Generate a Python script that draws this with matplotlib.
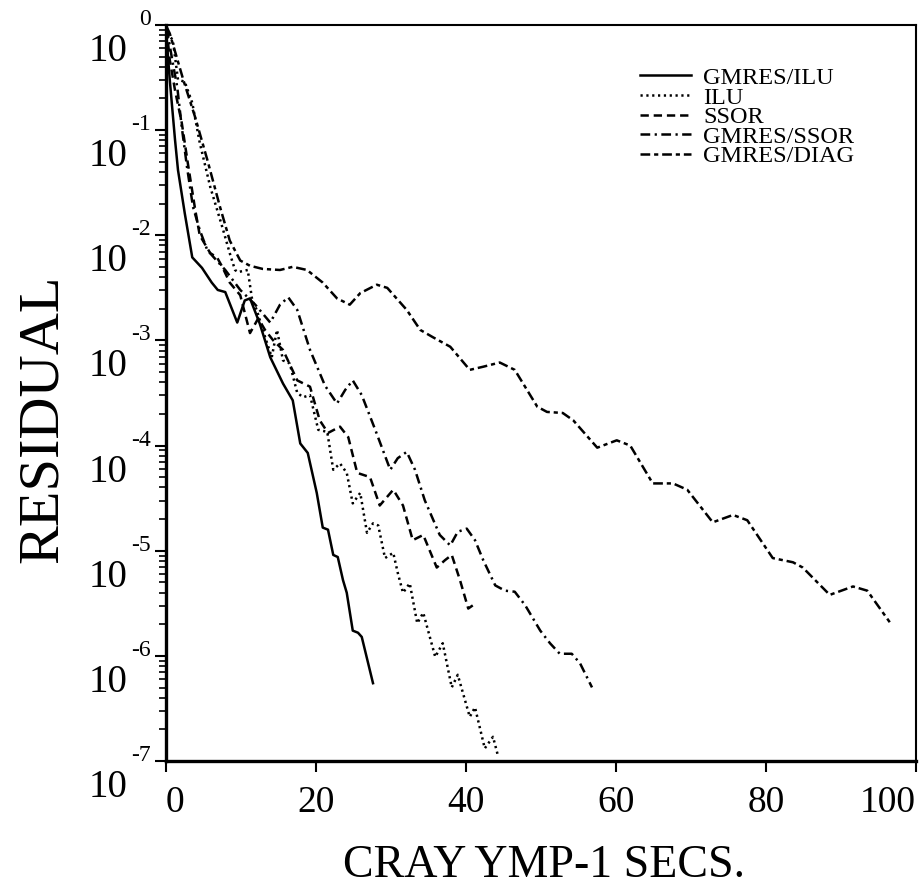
import numpy as np
import matplotlib
matplotlib.use('Agg')
import matplotlib.pyplot as plt
from matplotlib.transforms import offset_copy

plt.rcParams['font.family'] = ['Liberation Serif', 'DejaVu Serif']
plt.rcParams['lines.scale_dashes'] = False

# ---- data: time (s) and log10(residual) ----
gmres_ilu_t = [0.0, 0.5, 1.2, 1.6, 2.5, 3.5, 4.8, 6.1, 6.9, 7.9, 9.5, 10.5, 11.2, 12.5,
               13.9, 15.6, 16.9, 17.9, 18.9, 20.1, 20.9, 21.6, 22.3, 22.9, 23.6, 24.1,
               24.9, 25.6, 26.1, 27.6]
gmres_ilu_r = [-0.05, -0.52, -1.09, -1.38, -1.79, -2.21, -2.31, -2.45, -2.52, -2.54, -2.83,
               -2.62, -2.60, -2.84, -3.16, -3.41, -3.57, -3.98, -4.07, -4.45, -4.78, -4.80,
               -5.04, -5.06, -5.28, -5.40, -5.76, -5.78, -5.82, -6.26]

ilu_t = [0.1, 0.9, 1.6, 2.5, 3.5, 4.5, 5.6, 5.9, 7.5, 8.5, 9.2, 9.6, 10.9, 11.5, 12.1,
         12.9, 14.1, 14.8, 15.6, 16.5, 17.5, 18.3, 19.2, 20.3, 21.5, 22.3, 23.2, 24.1,
         24.9, 25.9, 26.8, 27.6, 28.3, 29.2, 30.3, 30.9, 31.6, 32.5, 33.5, 34.3, 35.9,
         36.9, 38.1, 38.9, 40.5, 41.2, 42.5, 43.6, 44.3]
ilu_r = [-0.08, -0.14, -0.52, -0.54, -0.74, -1.12, -1.45, -1.54, -1.92, -2.17, -2.33,
         -2.35, -2.33, -2.62, -2.71, -2.90, -3.16, -2.90, -3.19, -3.22, -3.50, -3.54,
         -3.52, -3.85, -3.87, -4.23, -4.17, -4.26, -4.55, -4.45, -4.83, -4.74, -4.76,
         -5.07, -5.02, -5.21, -5.40, -5.31, -5.69, -5.59, -6.01, -5.88, -6.30, -6.18,
         -6.58, -6.49, -6.88, -6.77, -6.96]

ssor_t = [0.1, 0.5, 1.2, 2.1, 2.9, 3.9, 4.5, 5.9, 6.8, 7.5, 8.5, 9.9, 11.2, 12.3, 13.2,
          14.3, 15.6, 17.5, 19.2, 20.5, 21.6, 23.2, 24.3, 25.5, 27.2, 28.5, 30.3, 31.6,
          32.9, 34.3, 36.1, 37.2, 38.1, 39.2, 40.3, 40.9]
ssor_r = [-0.05, -0.33, -0.62, -0.93, -1.31, -1.76, -2.00, -2.17, -2.21, -2.30, -2.45,
          -2.57, -2.93, -2.79, -2.90, -3.00, -3.09, -3.38, -3.44, -3.76, -3.88, -3.82,
          -3.92, -4.26, -4.30, -4.57, -4.42, -4.57, -4.90, -4.85, -5.16, -5.09, -5.04,
          -5.28, -5.55, -5.52]

gmres_ssor_t = [0.1, 0.9, 1.5, 2.1, 2.8, 3.6, 4.5, 5.5, 6.5, 7.9, 9.9, 11.9, 13.9, 15.2,
                16.3, 17.5, 19.2, 21.2, 22.8, 23.9, 24.9, 26.1, 27.9, 29.9, 30.9, 32.1,
                33.2, 34.5, 36.5, 37.9, 38.9, 40.1, 41.2, 42.3, 43.9, 45.2, 46.5, 47.9,
                49.9, 51.2, 52.5, 54.1, 55.2, 56.8]
gmres_ssor_r = [-0.03, -0.36, -0.59, -0.97, -1.35, -1.73, -1.95, -2.14, -2.22, -2.33,
                -2.52, -2.66, -2.83, -2.66, -2.59, -2.71, -3.09, -3.43, -3.60, -3.47,
                -3.38, -3.52, -3.85, -4.23, -4.12, -4.06, -4.23, -4.52, -4.85, -4.95,
                -4.82, -4.79, -4.90, -5.09, -5.33, -5.38, -5.39, -5.52, -5.76, -5.88,
                -5.98, -5.98, -6.07, -6.30]

gmres_diag_t = [0.1, 0.5, 2.3, 3.9, 5.5, 7.2, 8.5, 9.9, 11.2, 12.9, 15.2, 16.9, 18.8,
                20.9, 22.8, 24.5, 25.9, 28.1, 29.5, 32.1, 33.9, 35.6, 37.9, 40.5, 42.3,
                44.5, 46.5, 49.5, 50.8, 52.9, 54.3, 57.5, 60.1, 61.9, 64.9, 67.6, 69.5,
                72.9, 75.6, 77.5, 80.9, 83.6, 84.9, 88.5, 91.6, 93.5, 96.5]
gmres_diag_r = [-0.02, -0.08, -0.52, -0.88, -1.28, -1.73, -2.05, -2.24, -2.29, -2.32,
                -2.33, -2.30, -2.33, -2.45, -2.60, -2.66, -2.55, -2.47, -2.50, -2.71,
                -2.90, -2.97, -3.06, -3.28, -3.25, -3.21, -3.28, -3.63, -3.68, -3.69,
                -3.76, -4.02, -3.95, -4.00, -4.36, -4.36, -4.42, -4.73, -4.66, -4.71,
                -5.07, -5.11, -5.16, -5.42, -5.34, -5.38, -5.68]

x_ticks = [0, 20, 40, 60, 80, 100]
y_exponents = [0, -1, -2, -3, -4, -5, -6, -7]

series = [
    ('GMRES/ILU', gmres_ilu_t, gmres_ilu_r, '-'),
    ('ILU', ilu_t, ilu_r, (0, (1.6, 2.6))),
    ('SSOR', ssor_t, ssor_r, (0, (6, 3.5))),
    ('GMRES/SSOR', gmres_ssor_t, gmres_ssor_r, (0, (7, 3.2, 1.6, 3.2))),
    ('GMRES/DIAG', gmres_diag_t, gmres_diag_r, (0, (7, 2.8, 3, 2.8))),
]

fig = plt.figure(figsize=(9.23, 8.9), dpi=100)
ax = fig.add_axes([166 / 923, 1 - 761 / 890, 750 / 923, 736 / 890])

for name, t, r, ls in series:
    ax.plot(t, 10.0 ** np.array(r), color='black', lw=1.8, ls=ls, label=name)

ax.set_yscale('log')
ax.set_xlim(0, 100)
ax.set_ylim(1e-7, 1e0)

# spines
for side, w in [('left', 2.4), ('bottom', 2.4), ('top', 1.5), ('right', 1.5)]:
    ax.spines[side].set_linewidth(w)

# ticks
ax.set_xticks(x_ticks)
xl = ax.set_xticklabels([str(v) for v in x_ticks], fontsize=27)
xl[0].set_ha('left')
xl[-1].set_ha('right')
ax.tick_params(axis='x', direction='out', length=8, width=1.5, pad=10)
ax.set_yticks([10.0 ** e for e in y_exponents])
ax.set_yticklabels([''] * len(y_exponents))
ax.yaxis.set_minor_locator(matplotlib.ticker.LogLocator(base=10, subs=np.arange(2, 10), numticks=20))
ax.yaxis.set_minor_formatter(matplotlib.ticker.NullFormatter())
ax.tick_params(axis='y', which='major', direction='out', length=8, width=1.5)
ax.tick_params(axis='y', which='minor', direction='out', length=5, width=1.2)

# old style "10" + exponent labels
tr_base = offset_copy(ax.get_yaxis_transform(), fig=fig, x=-38, y=-8, units='dots')
tr_exp = offset_copy(ax.get_yaxis_transform(), fig=fig, x=-15, y=0, units='dots')
for e in y_exponents:
    ax.text(0, 10.0 ** e, '10', transform=tr_base, ha='right', va='top', fontsize=28)
    ax.text(0, 10.0 ** e, str(e), transform=tr_exp, ha='right', va='baseline', fontsize=17)

ax.set_xlabel('CRAY YMP-1 SECS.', fontsize=33, va='center')
ax.xaxis.set_label_coords(0.504, -0.143)
ax.set_ylabel('RESIDUAL', fontsize=42, va='center')
ax.yaxis.set_label_coords(-0.164, 0.465)

ax.legend(loc='upper left', bbox_to_anchor=(0.632, 0.943), frameon=False,
          fontsize=17.5, handlelength=2.1, handletextpad=0.5, labelspacing=-0.1,
          borderpad=0, borderaxespad=0)

fig.savefig('out.png', dpi=100)
